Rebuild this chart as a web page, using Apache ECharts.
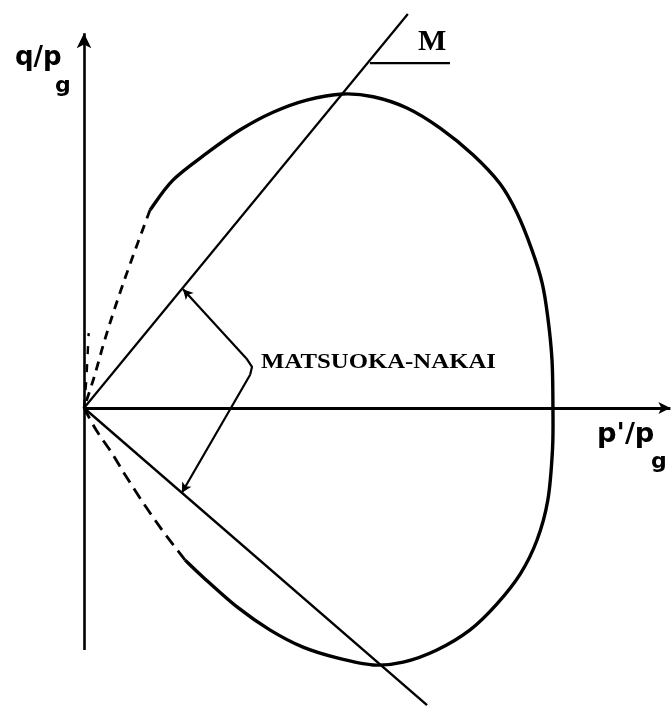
<!DOCTYPE html>
<html>
<head>
<meta charset="utf-8">
<script src="https://cdn.jsdelivr.net/npm/echarts@6/dist/echarts.min.js"></script>
<style>
  html, body { margin: 0; padding: 0; background: #fff; }
  #chart { width: 672px; height: 708px; }
</style>
</head>
<body>
<div id="chart"></div>
<script>
// Yield surface in the normalised stress plane: p'/pg horizontally, q/pg vertically.
// The surface crosses the p' axis at p'/pg = 1.

// Solid part of the yield surface, from the upper kink round to the lower kink
const yieldSurface = [
  [0.141, 0.423], [0.190, 0.487], [0.263, 0.545], [0.333, 0.594], [0.404, 0.632],
  [0.476, 0.658], [0.553, 0.671], [0.618, 0.665], [0.690, 0.641], [0.761, 0.598],
  [0.831, 0.541], [0.889, 0.479], [0.925, 0.417], [0.957, 0.338], [0.979, 0.267],
  [0.991, 0.194], [1.000, 0.103], [1.002, 0.000], [1.001, -0.090], [0.991, -0.197],
  [0.968, -0.282], [0.932, -0.355], [0.882, -0.419], [0.825, -0.474], [0.754, -0.517],
  [0.682, -0.543], [0.618, -0.549], [0.541, -0.534], [0.468, -0.511], [0.397, -0.474],
  [0.327, -0.425], [0.254, -0.361], [0.216, -0.325]
];

// Dashed closure of the surface towards the origin
const dashedUpper = [[0.141, 0.423], [0.100, 0.312], [0.068, 0.220], [0.043, 0.141], [0.021, 0.064], [0, 0]];
const dashedLower = [[0.216, -0.325], [0.199, -0.303], [0.162, -0.254], [0.124, -0.199], [0.088, -0.143], [0.058, -0.094], [0.026, -0.047], [0, 0]];
const dashedNearAxis = [[0, 0], [0.005, 0.06], [0.008, 0.12], [0.010, 0.16]];

// Critical state lines (compression and extension)
const lineCompression = [[0, 0], [0.692, 0.842]];
const lineExtension = [[0, 0], [0.733, -0.635]];

// Matsuoka-Nakai leader lines: feet on the two lines and the bracket tip
const mnUpperFoot = [0.2115, 0.254];
const mnLowerFoot = [0.209, -0.181];
const mnBracket = [[0.347, 0.106], [0.359, 0.088], [0.355, 0.071]];

// Slope marker next to "M"
const slopeMarker = [[0.611, 0.737], [0.782, 0.737]];

// Axes
const qAxisEnds = [[0, -0.517], [0, 0.801]];
const pAxisEnds = [[0, 0], [1.253, 0]];
const xRange = [-0.1795, 1.2564];
const yRange = [-0.641, 0.8718];

const chart = echarts.init(document.getElementById('chart'), null, { renderer: 'canvas' });

const ink = '#000';

// Catmull-Rom spline through pixel points, written as cubic Bezier path data
function splinePath(px) {
  let d = 'M' + px[0][0] + ',' + px[0][1];
  for (let i = 0; i < px.length - 1; i++) {
    const p0 = px[i - 1] || px[i];
    const p1 = px[i];
    const p2 = px[i + 1];
    const p3 = px[i + 2] || p2;
    const c1x = p1[0] + (p2[0] - p0[0]) / 6, c1y = p1[1] + (p2[1] - p0[1]) / 6;
    const c2x = p2[0] - (p3[0] - p1[0]) / 6, c2y = p2[1] - (p3[1] - p1[1]) / 6;
    d += 'C' + c1x + ',' + c1y + ' ' + c2x + ',' + c2y + ' ' + p2[0] + ',' + p2[1];
  }
  return d;
}

function polyPath(px) {
  return px.map(function (p, i) { return (i ? 'L' : 'M') + p[0] + ',' + p[1]; }).join('');
}

// A curve drawn as one path, positioned through the cartesian coordinate system
function curveSeries(name, pts, width, dash, smooth) {
  return {
    name: name,
    type: 'custom',
    coordinateSystem: 'cartesian2d',
    silent: true,
    data: [pts[0]],
    z: 3,
    renderItem: function (params, api) {
      const px = pts.map(function (p) { return api.coord(p); });
      return {
        type: 'path',
        shape: { pathData: smooth ? splinePath(px) : polyPath(px) },
        style: {
          fill: 'none', stroke: ink, lineWidth: width,
          lineDash: dash || null, lineCap: 'butt', lineJoin: 'round'
        }
      };
    }
  };
}

// A straight segment with an arrowhead at its far end
function arrowSegment(from, to, width, headSize) {
  return [
    { coord: from, symbol: 'none', lineStyle: { width: width, color: ink, type: 'solid' } },
    { coord: to, symbol: 'arrow', symbolSize: headSize }
  ];
}

const option = {
  animation: false,
  backgroundColor: '#fff',
  grid: { left: 0, right: 0, top: 0, bottom: 0 },
  xAxis: { type: 'value', min: xRange[0], max: xRange[1], show: false },
  yAxis: { type: 'value', min: yRange[0], max: yRange[1], show: false },
  series: [
    curveSeries('yield surface', yieldSurface, 3.4, null, true),
    curveSeries('closure upper', dashedUpper, 2.8, [9, 7], true),
    curveSeries('closure lower', dashedLower, 2.8, [12, 7], true),
    curveSeries('closure near axis', dashedNearAxis, 2.4, [8, 10], false),
    curveSeries('M compression', lineCompression, 2.2),
    curveSeries('M extension', lineExtension, 2.4),
    curveSeries('bracket', mnBracket, 2.2),
    curveSeries('slope marker', slopeMarker, 2.4),
    {
      name: 'axes and leaders',
      type: 'line',
      data: [],
      silent: true,
      markLine: {
        silent: true,
        animation: false,
        label: { show: false },
        emphasis: { disabled: true },
        lineStyle: { color: ink, type: 'solid', width: 2.2 },
        data: [
          arrowSegment(qAxisEnds[0], qAxisEnds[1], 2.6, [11, 15]),
          arrowSegment(pAxisEnds[0], pAxisEnds[1], 3, [9, 12]),
          arrowSegment(mnBracket[0], mnUpperFoot, 2.2, [8, 10]),
          arrowSegment(mnBracket[2], mnLowerFoot, 2.2, [8, 10])
        ]
      }
    }
  ],
  graphic: [
    {
      type: 'text', x: 15, y: 58,
      style: { text: 'q/p', font: 'bold 26px "DejaVu Sans"', fill: ink, verticalAlign: 'middle' }
    },
    {
      type: 'text', x: 55, y: 86,
      style: { text: 'g', font: 'bold 22px "DejaVu Sans"', fill: ink, verticalAlign: 'middle' }
    },
    {
      type: 'text', x: 597, y: 435, scaleX: 1.05,
      style: { text: "p'/p", font: 'bold 26px "DejaVu Sans"', fill: ink, verticalAlign: 'middle' }
    },
    {
      type: 'text', x: 651, y: 462,
      style: { text: 'g', font: 'bold 22px "DejaVu Sans"', fill: ink, verticalAlign: 'middle' }
    },
    {
      type: 'text', x: 418, y: 42,
      style: { text: 'M', font: 'bold 30px "Liberation Serif"', fill: ink, verticalAlign: 'middle' }
    },
    {
      type: 'text', x: 261, y: 363, scaleX: 1.18,
      style: { text: 'MATSUOKA-NAKAI', font: 'bold 21px "Liberation Serif"', fill: ink, verticalAlign: 'middle' }
    }
  ]
};

chart.setOption(option);
</script>
</body>
</html>
